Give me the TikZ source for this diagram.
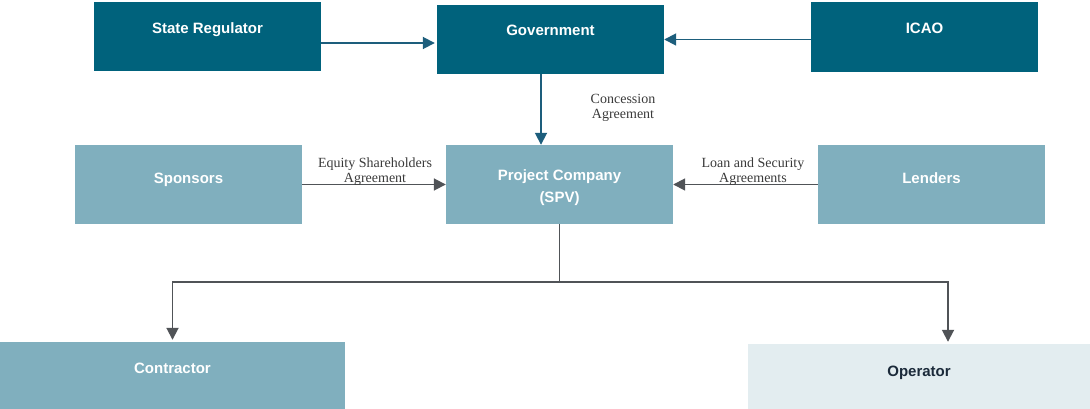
\documentclass[tikz,border=0pt]{standalone}
\usepackage{fontspec}
\setmainfont{Liberation Serif}
\newfontfamily\boxfont{Liberation Sans}
\usetikzlibrary{arrows.meta,calc}

\definecolor{darkteal}{HTML}{00627C}
\definecolor{midteal}{HTML}{80AFBE}
\definecolor{paleteal}{HTML}{E3EDF0}
\definecolor{arrowteal}{HTML}{1D5E7C}
\definecolor{arrowgrey}{HTML}{505357}
\definecolor{labelgrey}{HTML}{3A3A3A}
\definecolor{inkdark}{HTML}{1B2A3A}

\tikzset{
    party/.style={rectangle,inner sep=0pt,minimum width=227pt,align=center,
        font=\boxfont\bfseries\fontsize{15}{23}\selectfont,text=white},
    toprow/.style={party,fill=darkteal},
    midrow/.style={party,fill=midteal},
    link/.style={-{Triangle[length=12pt,width=12pt]},line width=1.8pt},
    deal/.style={align=center,text=labelgrey,font=\fontsize{14}{15}\selectfont}
}

\begin{document}
\begin{tikzpicture}[x=1pt,y=-1pt]
    \useasboundingbox (0,0) rectangle (1090,409);
    % top row
    \node[toprow,text height=32pt,text depth=37pt] (reg) at (207.5,36.5) {State Regulator};
    \node[toprow,text height=31pt,text depth=38pt] (gov) at (550.5,39.5) {Government};
    \node[toprow,text height=32pt,text depth=38pt] (icao) at (924.5,37) {ICAO};
    % middle row
    \node[midrow,text height=38pt,text depth=41pt] (sponsors) at (188.5,184.5) {Sponsors};
    \node[midrow,text height=58pt,text depth=21pt] (spv) at (559.5,184.5) {Project Company\\(SPV)};
    \node[midrow,text height=38pt,text depth=41pt] (lenders) at (931.5,184.5) {Lenders};
    % bottom row
    \node[midrow,minimum width=345pt,text height=31pt,text depth=36pt] (contractor) at (172.5,375.5) {Contractor};
    \node[party,fill=paleteal,text=inkdark,minimum width=342pt,text height=32pt,text depth=33pt] (operator) at (919,376.5) {Operator};

    \draw[link,arrowteal] ($(reg.east)+(0,6.5)$) -- ($(gov.west)+(-2,3.5)$);
    \draw[link,arrowteal] (icao.west |- gov.east) -- (gov.east);
    \draw[link,arrowteal] ($(gov.south)+(-9.5,0)$) -- ($(spv.north)+(-18.5,0)$);
    \node[deal] (concession) at (623,108) {Concession\\Agreement};

    \draw[link,arrowgrey] (sponsors.east) -- (spv.west);
    \node[deal] (equity) at (375,171.5) {Equity Shareholders\\Agreement};
    \draw[link,arrowgrey] (lenders.west) -- (spv.east);
    \node[deal] (loan) at (753,171.5) {Loan and Security\\Agreements};

    \coordinate (split) at (559.5,282);
    \draw[line width=1.8pt,arrowgrey] (spv.south) -- (split);
    \draw[link,arrowgrey] (split) -| ($(contractor.north)+(0,-2)$);
    \draw[link,arrowgrey] (split) -| ($(operator.north)+(29,-2)$);
\end{tikzpicture}
\end{document}
